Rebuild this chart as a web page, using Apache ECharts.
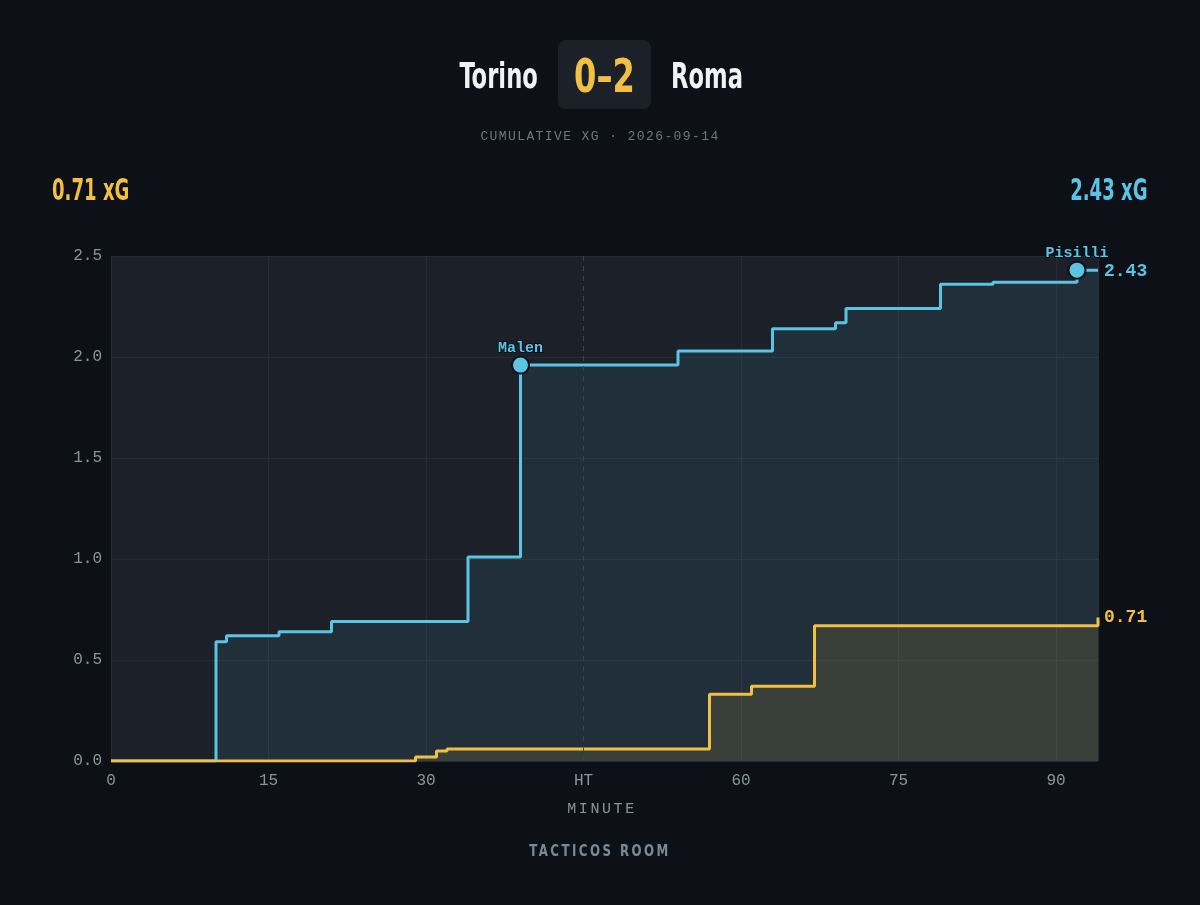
<!DOCTYPE html>
<html>
<head>
<meta charset="utf-8">
<script src="https://cdn.jsdelivr.net/npm/echarts@6/dist/echarts.min.js"></script>
<style>
  html, body { margin: 0; padding: 0; background: #0d1117; }
  #wrap { position: relative; width: 1200px; height: 905px; background: #0d1117; overflow: hidden; }
  #chart { position: absolute; left: 0; top: 0; width: 1200px; height: 905px; }
  .cond { font-family: 'Liberation Sans Narrow', 'DejaVu Sans Condensed', 'Roboto', sans-serif; font-weight: 700; }
  #header { position: absolute; top: 40px; left: 0; width: 1200px; height: 69px; }
  .team { position: absolute; top: 2px; height: 69px; line-height: 69px; color: #f0f3f6; font-size: 35px; white-space: nowrap; }
  #home { right: 662px; transform: scaleX(0.72); transform-origin: right center; }
  #away { left: 671px; transform: scaleX(0.72); transform-origin: left center; }
  #score { position: absolute; left: 558px; top: 0; width: 93px; height: 69px; border-radius: 8px; background: #1c2129; }
  #scoreTxt { position: absolute; left: 0; top: 1px; width: 93px; height: 69px; line-height: 69px; text-align: center; color: #f2bf45; font-size: 47px; transform: scaleX(0.76); transform-origin: center center; }
  #sub { position: absolute; top: 129px; left: 0; width: 1200px; text-align: center; font-family: 'Liberation Mono', 'DejaVu Sans Mono', monospace; font-size: 13px; letter-spacing: 1.4px; color: #6e7681; }
  .tot { position: absolute; top: 172px; font-size: 30px; white-space: nowrap; }
  #totL { left: 52px; color: #f2bf45; transform: scaleX(0.67); transform-origin: left center; }
  #totR { right: 52px; color: #5bc4e4; transform: scaleX(0.67); transform-origin: right center; }
  #xname { position: absolute; top: 801px; left: 0; width: 1200px; text-align: center; font-family: 'Liberation Mono', 'DejaVu Sans Mono', monospace; font-size: 15px; letter-spacing: 2.6px; color: #8b949e; padding-left: 4px; box-sizing: border-box; }
  #foot { position: absolute; top: 841px; left: 0; width: 1200px; text-align: center; font-size: 16px; letter-spacing: 3px; color: #7d8896; transform: scaleX(0.82); transform-origin: 600px center; }
</style>
</head>
<body>
<div id="wrap">
  <div id="chart"></div>
  <div id="header"><span class="team cond" id="home"></span><div id="score"><div id="scoreTxt" class="cond"></div></div><span class="team cond" id="away"></span></div>
  <div id="sub"></div>
  <div class="tot cond" id="totL"></div>
  <div class="tot cond" id="totR"></div>
  <div id="xname"></div>
  <div id="foot" class="cond"></div>
</div>
<script>
// ---- data ----
const homeTeam = 'Torino';
const awayTeam = 'Roma';
const scoreText = '0–2';
const subtitleText = 'CUMULATIVE XG · 2026-09-14';
const footerText = 'TACTICOS ROOM';
const xAxisName = 'MINUTE';

const torinoMinutes = [0, 29, 31, 32, 57, 61, 67, 94];
const torinoXg      = [0, 0.02, 0.05, 0.06, 0.33, 0.37, 0.67, 0.71];

const romaMinutes = [0, 10, 11, 16, 21, 34, 39, 54, 63, 69, 70, 79, 84, 92, 94];
const romaXg      = [0, 0.59, 0.62, 0.64, 0.69, 1.01, 1.96, 2.03, 2.14, 2.17, 2.24, 2.36, 2.37, 2.43, 2.43];

const romaGoalMinutes = [39, 92];
const romaGoalXg      = [1.96, 2.43];
const romaGoalPlayers = ['Malen', 'Pisilli'];

const xTickLabels = { 45: 'HT' };

// ---- colours ----
const YEL = '#f2bf45';
const BLU = '#5bc4e4';
const BG = '#0d1117';
const GRID = '#262c35';
const LABEL = '#8b949e';
const MONO = "'Liberation Mono', 'DejaVu Sans Mono', monospace";

document.getElementById('home').textContent = homeTeam;
document.getElementById('away').textContent = awayTeam;
document.getElementById('scoreTxt').textContent = scoreText;
document.getElementById('sub').textContent = subtitleText;
document.getElementById('totL').textContent = torinoXg[torinoXg.length - 1].toFixed(2) + ' xG';
document.getElementById('totR').textContent = romaXg[romaXg.length - 1].toFixed(2) + ' xG';
document.getElementById('xname').textContent = xAxisName;
document.getElementById('foot').textContent = footerText;

const torinoData = torinoMinutes.map((m, i) => [m, torinoXg[i]]);
const romaData = romaMinutes.map((m, i) => [m, romaXg[i]]);
const goalData = romaGoalMinutes.map((m, i) => ({ value: [m, romaGoalXg[i]], name: romaGoalPlayers[i] }));

const chart = echarts.init(document.getElementById('chart'), null, { renderer: 'canvas' });
chart.setOption({
  backgroundColor: 'transparent',
  animation: false,
  grid: { left: 111, right: 102, top: 256, bottom: 144, show: true, backgroundColor: '#1b2029', borderWidth: 0 },
  xAxis: {
    type: 'value', min: 0, max: 94, interval: 15,
    axisLine: { show: false }, axisTick: { show: false },
    axisLabel: {
      color: LABEL, fontFamily: MONO, fontSize: 16, margin: 12, showMaxLabel: false,
      formatter: v => xTickLabels[v] || String(v)
    },
    splitLine: { show: true, lineStyle: { width: 1, color: [GRID, GRID, GRID, 'transparent', GRID, GRID, GRID, GRID] } }
  },
  yAxis: {
    type: 'value', min: 0, max: 2.5, interval: 0.5,
    axisLine: { show: false }, axisTick: { show: false },
    axisLabel: { color: LABEL, fontFamily: MONO, fontSize: 16, margin: 9, formatter: v => v.toFixed(1) },
    splitLine: { show: true, lineStyle: { color: GRID, width: 1 } }
  },
  series: [
    {
      name: awayTeam, type: 'line', step: 'end', data: romaData, showSymbol: false, symbol: 'none',
      lineStyle: { color: BLU, width: 3 }, itemStyle: { color: BLU },
      areaStyle: { color: 'rgba(91,196,228,0.09)', opacity: 1 },
      endLabel: { show: true, color: BLU, fontFamily: MONO, fontSize: 18, fontWeight: 'bold', distance: 6, offset: [0, 1], formatter: p => p.value[1].toFixed(2) },
      markLine: {
        silent: true, symbol: 'none', label: { show: false },
        lineStyle: { color: '#3d444d', type: [5, 5], width: 1 },
        data: [{ xAxis: 45 }]
      },
      z: 3
    },
    {
      name: homeTeam, type: 'line', step: 'end', data: torinoData, showSymbol: false, symbol: 'none',
      lineStyle: { color: YEL, width: 3 }, itemStyle: { color: YEL },
      areaStyle: { color: 'rgba(242,191,69,0.12)', opacity: 1 },
      endLabel: { show: true, color: YEL, fontFamily: MONO, fontSize: 18, fontWeight: 'bold', distance: 6, formatter: p => p.value[1].toFixed(2) },
      z: 4
    },
    {
      name: 'goals', type: 'scatter', data: goalData, symbol: 'circle', symbolSize: 17,
      itemStyle: { color: BLU, borderColor: BG, borderWidth: 2, opacity: 1 },
      label: {
        show: true, position: 'top', distance: 0, formatter: p => p.name,
        color: BLU, fontFamily: MONO, fontSize: 15, fontWeight: 'bold',
        textBorderColor: BG, textBorderWidth: 2
      },
      z: 6
    }
  ]
});
</script>
</body>
</html>
